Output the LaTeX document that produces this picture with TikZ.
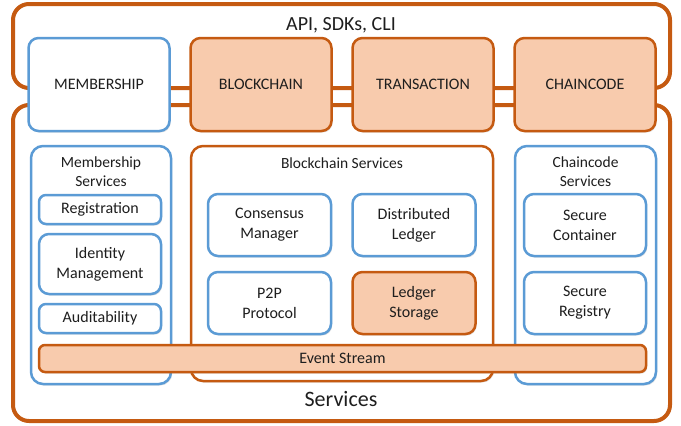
\documentclass[tikz,border=0pt]{standalone}
\usepackage{fontspec}
\setmainfont{Carlito}
\usepackage{tikz}
\usetikzlibrary{shadows}
\usepackage{xcolor}

\definecolor{hlorange}{HTML}{C55A11}
\definecolor{hlpeach}{HTML}{F8CBAD}
\definecolor{hlblue}{HTML}{5B9BD5}
\definecolor{hltext}{HTML}{1E1E1E}

\tikzset{
  frame/.style={draw=hlorange, line width=4pt, rounded corners=16pt},
  boxbase/.style={line width=2.5pt, align=center, text=hltext,
    font=\fontsize{16}{20}\selectfont, inner sep=0pt,
    drop shadow={shadow xshift=1.2pt, shadow yshift=-1.6pt, opacity=.22}},
  bluebox/.style={boxbase, draw=hlblue, fill=white, rounded corners=10pt},
  orangebox/.style={boxbase, draw=hlorange, fill=hlpeach, rounded corners=10pt},
  groupbox/.style={boxbase, rounded corners=12pt, fill=white},
  title/.style={align=center, text=hltext, font=\fontsize{15.5}{19.5}\selectfont}
}

\begin{document}
\begin{tikzpicture}[x=1pt, y=-1pt]
  \useasboundingbox (0,0) rectangle (681,426);

  % API frame (top) and Services frame (bottom)
  \draw[frame] (13,4) rectangle (670,88);
  \draw[frame] (13,105) rectangle (670,421);
  \node[text=hltext, font=\fontsize{20}{24}\selectfont] (api) at (341,25) {API, SDKs, CLI};
  \node[text=hltext, font=\fontsize{22}{26}\selectfont] (services) at (341,399) {Services};

  % top row
  \node[bluebox, minimum width=141pt, minimum height=93pt] (member) at (99,84.5) {MEMBERSHIP};
  \node[orangebox, minimum width=141pt, minimum height=93pt] (block) at (261,84.5) {BLOCKCHAIN};
  \node[orangebox, minimum width=141pt, minimum height=93pt] (trans) at (423,84.5) {TRANSACTION};
  \node[orangebox, minimum width=141pt, minimum height=93pt] (chain) at (585,84.5) {CHAINCODE};

  % Membership services
  \node[groupbox, draw=hlblue, minimum width=140pt, minimum height=238pt] (msgroup) at (101,265) {};
  \node[title] (mstitle) at (101,171.5) {Membership\\Services};
  \node[bluebox, rounded corners=7pt, minimum width=122pt, minimum height=29pt] (reg) at (100,209.5) {Registration};
  \node[bluebox, minimum width=122pt, minimum height=60pt] (ident) at (100,264) {Identity\\Management};
  \node[bluebox, rounded corners=7pt, minimum width=122pt, minimum height=29pt] (audit) at (100,318.5) {Auditability};

  % Blockchain services
  \node[groupbox, draw=hlorange, minimum width=302pt, minimum height=235pt] (bsgroup) at (342,263.5) {};
  \node[title] (bstitle) at (342,163) {Blockchain Services};
  \node[bluebox, minimum width=123pt, minimum height=62pt] (consensus) at (269.5,225) {Consensus\\Manager};
  \node[bluebox, minimum width=123pt, minimum height=62pt] (dledger) at (414,225) {Distributed\\Ledger};
  \node[bluebox, minimum width=123pt, minimum height=62pt] (p2p) at (269.5,303) {P2P\\Protocol};
  \node[orangebox, minimum width=123pt, minimum height=62pt] (lstorage) at (414,303) {Ledger\\Storage};

  % Chaincode services
  \node[groupbox, draw=hlblue, minimum width=141pt, minimum height=238pt] (ccgroup) at (585.5,265) {};
  \node[title] (cctitle) at (585.5,171.5) {Chaincode\\Services};
  \node[bluebox, minimum width=122pt, minimum height=62pt] (container) at (585,225) {Secure\\Container};
  \node[bluebox, minimum width=122pt, minimum height=62pt] (registry) at (585,303) {Secure\\Registry};

  % event stream across all services
  \node[orangebox, rounded corners=6pt, minimum width=607pt, minimum height=27pt] (events) at (342.5,358.5) {Event Stream};
\end{tikzpicture}
\end{document}
